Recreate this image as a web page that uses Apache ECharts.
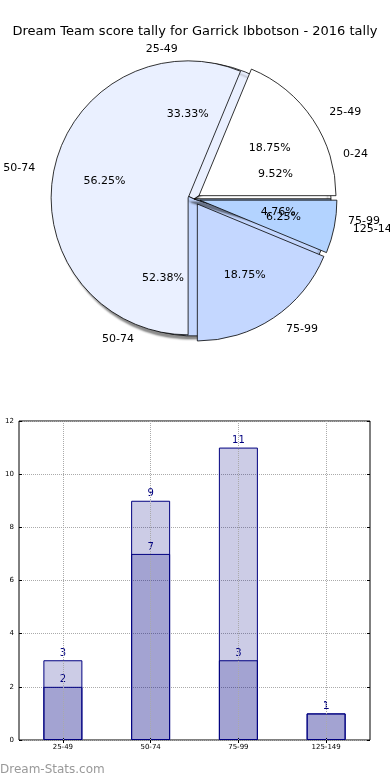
<!DOCTYPE html>
<html><head><meta charset="utf-8">
<script src="https://cdn.jsdelivr.net/npm/echarts@6/dist/echarts.min.js"></script>
<style>html,body{margin:0;padding:0;background:#fff}#c{width:390px;height:780px}</style>
</head><body><div id="c"></div>
<script>
var titleText = 'Dream Team score tally for Garrick Ibbotson - 2016 tally';
// Pie A (front)
var pieANames = ['25-49', '50-74', '75-99', '125-149'];
var pieAValues = [3, 9, 3, 1];
// Pie B (behind)
var pieBNames = ['0-24', '25-49', '50-74', '75-99'];
var pieBValues = [2, 7, 11, 1];
var sliceColors = ['#ffffff', '#eaf0ff', '#c4d7ff', '#b3d3ff'];
// Bar chart
var barCategories = ['25-49', '50-74', '75-99', '125-149'];
var barBack = [3, 9, 11, 1];
var barFront = [2, 7, 3, 1];
var yTicks = [0, 2, 4, 6, 8, 10, 12];

var chart = echarts.init(document.getElementById('c'));
var font = 'DejaVu Sans';
var C = [194, 199], R = 137;

function sum(a) { return a.reduce(function (s, v) { return s + v; }, 0); }
function pieData(names, vals, sel) {
  return names.map(function (n, i) {
    return { name: n, value: vals[i], selected: !!sel, itemStyle: { color: sliceColors[i] } };
  });
}
function pctSeries(names, vals, sel) {
  var tot = sum(vals);
  return {
    type: 'pie', center: C, radius: [0, R * 1.2], startAngle: 0, clockwise: false,
    silent: true, animation: false, avoidLabelOverlap: false,
    labelLayout: { hideOverlap: false },
    selectedMode: sel ? 'multiple' : false, selectedOffset: 6,
    data: names.map(function (n, i) { return { name: n, value: vals[i], selected: !!sel }; }),
    itemStyle: { color: 'rgba(0,0,0,0)', borderWidth: 0 },
    label: {
      show: true, position: 'inside', color: '#000', fontFamily: font, fontSize: 11,
      formatter: function (p) { return (p.value / tot * 100).toFixed(2) + '%'; }
    },
    labelLine: { show: false }, z: 5
  };
}
function nameSeries(names, vals, sel, extra) {
  var s = {
    type: 'pie', center: C, radius: [0, R], startAngle: 0, clockwise: false,
    animation: false, silent: true, avoidLabelOverlap: false,
    labelLayout: { hideOverlap: false },
    selectedMode: sel ? 'multiple' : false, selectedOffset: 6,
    data: pieData(names, vals, sel),
    itemStyle: { borderColor: '#000', borderWidth: 0.8 },
    label: { show: true, position: 'outside', formatter: '{b}', color: '#000', fontFamily: font, fontSize: 11 },
    labelLine: { show: false, length: R * 0.1, length2: 0 }
  };
  for (var k in extra) s[k] = extra[k];
  return s;
}

var option = {
  animation: false,
  backgroundColor: '#fff',
  title: { text: titleText, left: 'center', top: 20, textStyle: { fontFamily: font, fontSize: 13, fontWeight: 'normal', color: '#000' } },
  graphic: [{ type: 'text', left: 0, top: 764, style: { text: 'Dream-Stats.com', fontFamily: font, fontSize: 12, fontWeight: 'normal', fill: '#999' } }],
  grid: { left: 19, top: 421, width: 351, height: 319, show: true, borderColor: '#000', borderWidth: 1, backgroundColor: 'transparent' },
  xAxis: [{
    type: 'category', data: barCategories, gridIndex: 0,
    axisLine: { show: false }, axisTick: { show: true, inside: true, alignWithLabel: true, length: 3, lineStyle: { color: '#000' } },
    axisLabel: { fontFamily: font, fontSize: 7, color: '#000', margin: 4 },
    splitLine: { show: false }
  }, {
    type: 'category', data: barCategories, gridIndex: 0, position: 'top',
    axisLine: { show: false }, axisTick: { show: true, inside: true, alignWithLabel: true, length: 3, lineStyle: { color: '#000' } },
    axisLabel: { show: false }
  }],
  yAxis: [{
    type: 'value', min: 0, max: 12, interval: 2, gridIndex: 0,
    axisLine: { show: false }, axisTick: { show: true, inside: true, length: 3, lineStyle: { color: '#000' } },
    axisLabel: { fontFamily: font, fontSize: 7, color: '#000', margin: 5 },
    splitLine: { show: true, lineStyle: { type: 'dotted', color: '#aaa', width: 1 } }
  }, {
    type: 'value', min: 0, max: 12, interval: 2, gridIndex: 0, position: 'right',
    axisLine: { show: false }, axisTick: { show: true, inside: true, length: 3, lineStyle: { color: '#000' } },
    axisLabel: { show: false }, splitLine: { show: false }
  }],
  series: [
    nameSeries(pieBNames, pieBValues, false, {
      itemStyle: { borderColor: '#000', borderWidth: 0.8, shadowColor: 'rgba(0,0,0,0.45)', shadowBlur: 2, shadowOffsetX: -3, shadowOffsetY: 3 },
      z: 1
    }),
    nameSeries(pieANames, pieAValues, true, { z: 2 }),
    pctSeries(pieBNames, pieBValues, false),
    pctSeries(pieANames, pieAValues, true),
    {
      type: 'bar', xAxisIndex: 0, yAxisIndex: 0, data: barBack, barWidth: 39, barGap: '-100%',
      itemStyle: { color: 'rgba(0,0,128,0.2)', borderColor: '#000080', borderWidth: 1 },
      label: { show: true, position: 'top', color: '#000080', fontFamily: font, fontSize: 10, distance: 2 },
      markLine: {
        silent: true, symbol: 'none', label: { show: false },
        lineStyle: { type: 'dotted', color: '#aaa', width: 1 },
        data: barCategories.map(function (c) { return { xAxis: c }; })
      }
    },
    {
      type: 'bar', xAxisIndex: 0, yAxisIndex: 0, data: barFront, barWidth: 39, barGap: '-100%',
      itemStyle: { color: 'rgba(0,0,128,0.2)', borderColor: '#000080', borderWidth: 1 },
      label: { show: true, position: 'top', color: '#000080', fontFamily: font, fontSize: 10, distance: 2 }
    }
  ]
};
chart.setOption(option);
</script></body></html>
